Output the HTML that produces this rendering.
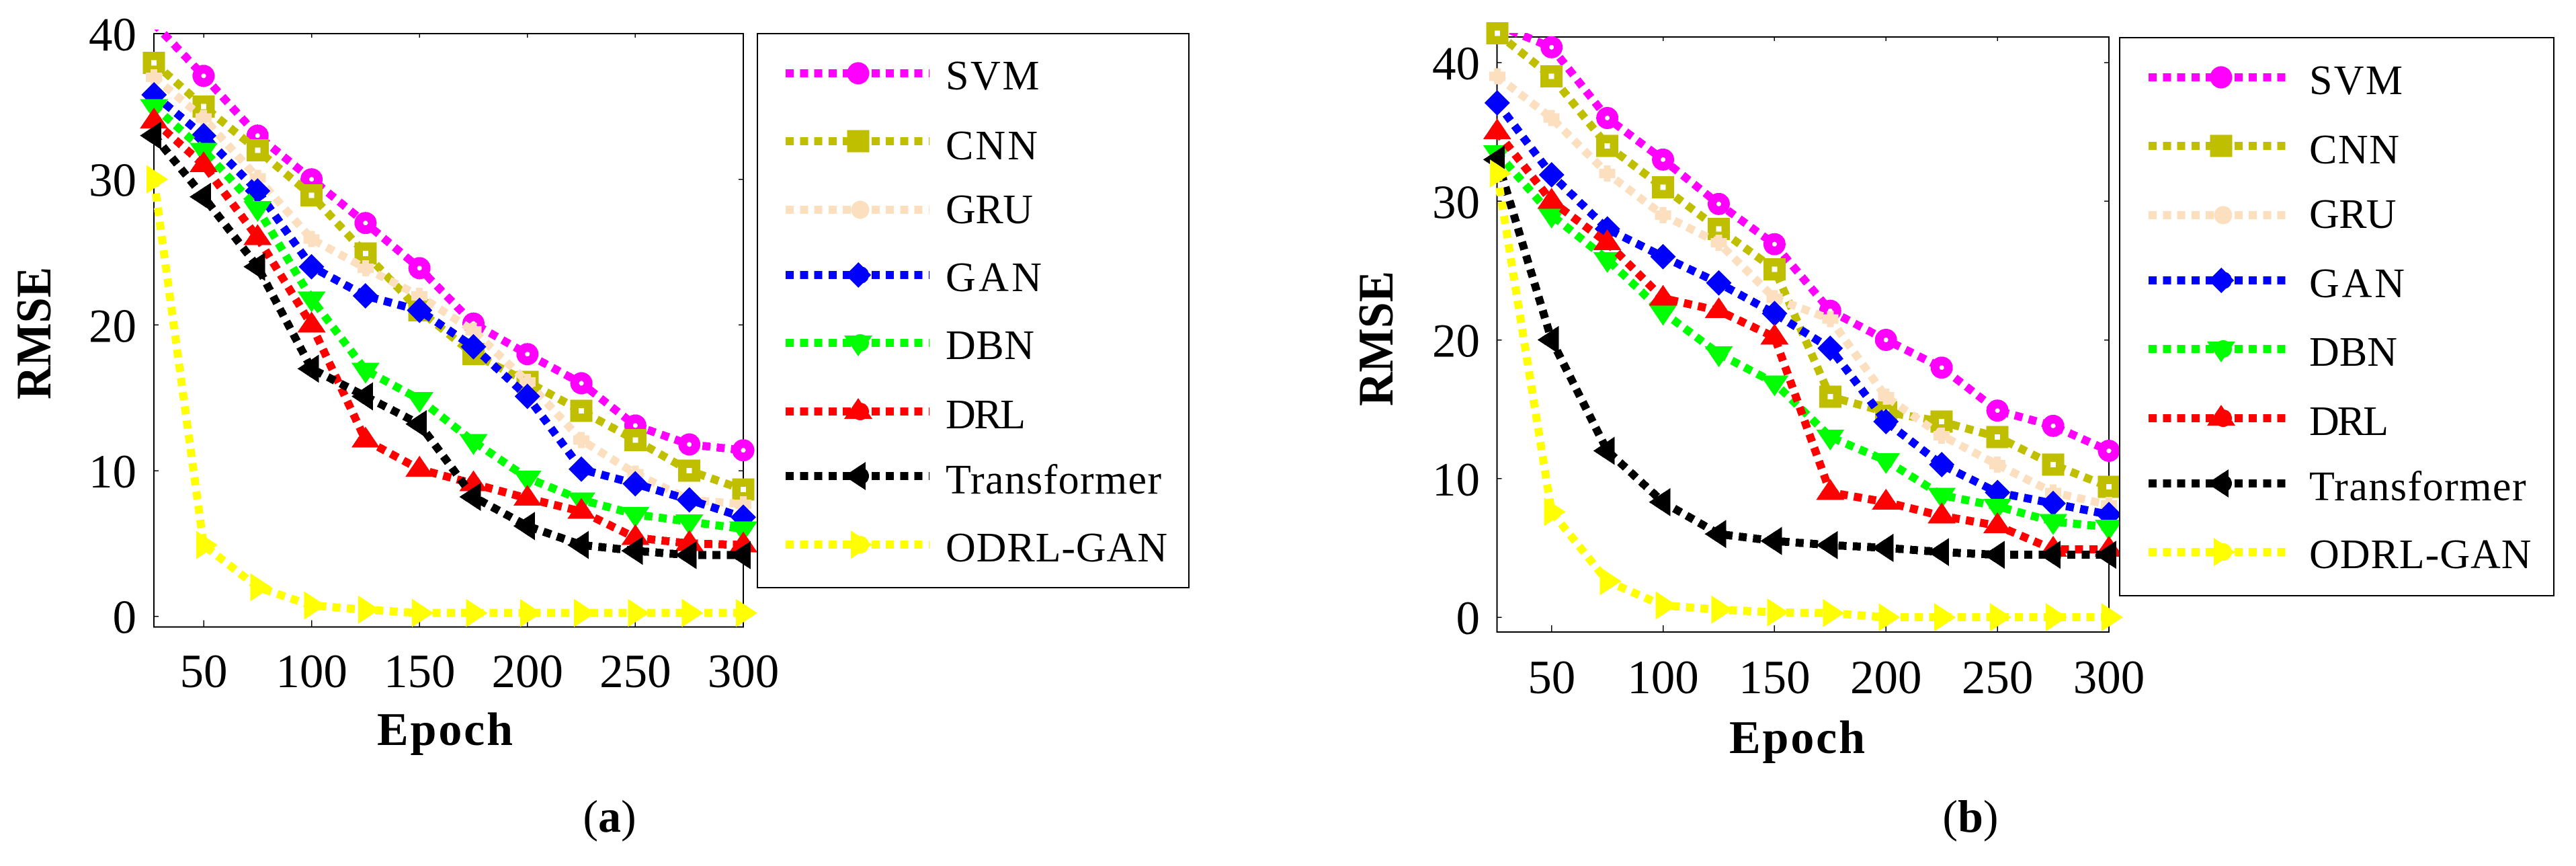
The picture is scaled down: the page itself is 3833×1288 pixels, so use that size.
<!DOCTYPE html>
<html lang="en">
<head>
<meta charset="utf-8">
<title>RMSE versus Epoch</title>
<style>
html,body{margin:0;padding:0;background:#fff;}
svg{display:block;}
text{font-family:"Liberation Serif",serif;fill:#000;}
</style>
</head>
<body>
<svg id="figure" xmlns="http://www.w3.org/2000/svg" width="3833" height="1288" viewBox="0 0 3833 1288"></svg>
<script>
// ---------- data: categories ----------
const epochsA = [27, 50, 75, 100, 125, 150, 175, 200, 225, 250, 275, 300];
const epochsB = [25.6, 50, 75, 100, 125, 150, 175, 200, 225, 250, 275, 300];

// ---------- data: tick labels ----------
const xTickValues = [50, 100, 150, 200, 250, 300];
const yTickValues = [0, 10, 20, 30, 40];

// ---------- data: series names ----------
const seriesNames = ['SVM', 'CNN', 'GRU', 'GAN', 'DBN', 'DRL', 'Transformer', 'ODRL-GAN'];

// ---------- data: panel (a) ----------
const aSVM = [40.7, 37.1, 33, 30, 27, 23.9, 20.1, 18, 16, 13.1, 11.8, 11.4];
const aCNN = [38, 35, 32, 28.9, 24.9, 21, 18, 16.1, 14.1, 12.1, 10, 8.7];
const aGRU = [37, 34.2, 30.1, 25.9, 23.9, 22, 19.6, 16.1, 12.1, 9.8, 8, 7.7];
const aGAN = [35.8, 33, 29.2, 24, 22, 21, 18.5, 15.1, 10.1, 9.1, 8, 6.8];
const aDBN = [35, 32, 28, 21.8, 16.9, 14.9, 12, 9.5, 8, 7, 6.5, 6];
const aDRL = [34, 31, 26, 20, 12.1, 10.1, 9.1, 8.1, 7.2, 5.4, 5, 4.9];
const aTransformer = [33, 28.8, 24, 17, 15.1, 13.2, 8.2, 6.2, 4.9, 4.5, 4.2, 4.2];
const aODRLGAN = [30, 4.9, 2, 0.75, 0.46, 0.23, 0.23, 0.23, 0.23, 0.23, 0.23, 0.23];

// ---------- data: panel (b) ----------
const bSVM = [42.7, 41.1, 36, 33, 29.8, 26.9, 22.1, 20, 18, 14.9, 13.8, 12];
const bCNN = [42.1, 39, 34, 31, 28, 25.1, 15.9, 14.8, 14.1, 13, 11, 9.4];
const bGRU = [39, 36, 32, 29, 27, 23, 21.5, 15.9, 13.1, 11, 9, 8.1];
const bGAN = [37.1, 31.9, 28, 26, 24.1, 21.9, 19.4, 14.1, 11, 9, 8.2, 7.4];
const bDBN = [33.5, 29, 25.8, 22, 19, 16.9, 13, 11.3, 8.8, 8, 6.9, 6.5];
const bDRL = [35, 30, 27, 23, 22.1, 20.2, 9, 8.3, 7.3, 6.6, 4.9, 4.9];
const bTransformer = [33, 20, 12, 8.3, 6, 5.5, 5.2, 5, 4.7, 4.5, 4.5, 4.5];
const bODRLGAN = [32, 7.6, 2.6, 0.85, 0.55, 0.35, 0.3, 0, 0, 0, 0, 0];

// ---------- styling ----------
const seriesColors = ['#ff00ff', '#bfbf00', '#fbdfbf', '#0000ff', '#00ff00', '#ff0000', '#000000', '#ffff00'];
const seriesMarkers = ['circle', 'square', 'plus', 'diamond', 'down', 'up', 'left', 'right'];

const panels = [
  {
    id: 'a', epochs: epochsA,
    values: [aSVM, aCNN, aGRU, aGAN, aDBN, aDRL, aTransformer, aODRLGAN],
    box: { l: 229, r: 1106, t: 50, b: 932.7 },
    xMap: { v0: 50, p0: 303, v1: 300, p1: 1106 },
    yMap: { v0: 0, p0: 916.7, v1: 40, p1: 50 },
    markerLimit: 40.2,
    yLabelRight: 203, xLabelBaseline: 1022,
    yTitle: { x: 75, c: 495.5, len: 197 },
    xTitle: { c: 662, baseline: 1108, len: 202 },
    caption: { x: 907, baseline: 1237 },
    legend: {
      l: 1127, r: 1769, t: 50, b: 874,
      lineL: 1169, lineR: 1383, markerX: 1277, textX: 1407,
      rows: [109, 210, 312, 409, 510, 612, 708, 810],
      baselines: [133, 237, 332, 433, 534, 637, 734, 835],
      widths: [139.5, 137, 130, 143, 132, 119, 321, 330]
    }
  },
  {
    id: 'b', epochs: epochsB,
    values: [bSVM, bCNN, bGRU, bGAN, bDBN, bDRL, bTransformer, bODRLGAN],
    box: { l: 2227.7, r: 3138, t: 55, b: 940 },
    xMap: { v0: 50, p0: 2308.7, v1: 300, p1: 3138 },
    yMap: { v0: 0, p0: 918, v1: 40, p1: 93 },
    markerLimit: 42.3,
    yLabelRight: 2202, xLabelBaseline: 1031,
    yTitle: { x: 2072, c: 503.5, len: 201 },
    xTitle: { c: 2674, baseline: 1120, len: 202 },
    caption: { x: 2932, baseline: 1237 },
    legend: {
      l: 3154, r: 3800, t: 56, b: 886,
      lineL: 3197, lineR: 3403, markerX: 3305, textX: 3436,
      rows: [115, 217, 320, 417, 519, 622, 719, 821],
      baselines: [140, 243, 339, 442, 544, 647, 744, 845],
      widths: [139, 134, 129.5, 142, 131, 118, 322.6, 330.5]
    }
  }
];

const SVG_NS = 'http://www.w3.org/2000/svg';
const figure = document.getElementById('figure');

function make(tag, attrs, parent) {
  const el = document.createElementNS(SVG_NS, tag);
  for (const k in attrs) el.setAttribute(k, attrs[k]);
  parent.appendChild(el);
  return el;
}

function linearScale(m) {
  return function (v) { return m.p0 + (v - m.v0) * (m.p1 - m.p0) / (m.v1 - m.v0); };
}

function drawMarker(parent, kind, cx, cy, color, solid) {
  const crisp = { 'shape-rendering': 'crispEdges' };
  function poly(points, fill) {
    const s = points.map(function (p) { return (cx + p[0]) + ',' + (cy + p[1]); }).join(' ');
    make('polygon', Object.assign({ points: s, fill: fill }, crisp), parent);
  }
  function disc(dx, r, fill) {
    make('circle', Object.assign({ cx: cx + dx, cy: cy, r: r, fill: fill }, crisp), parent);
  }
  if (kind === 'circle') {
    disc(0, 16.5, color);
    if (!solid) disc(0, 3.5, '#ffffff');
  } else if (kind === 'square') {
    poly([[-16.5, -16.5], [16.5, -16.5], [16.5, 16.5], [-16.5, 16.5]], color);
    if (!solid) poly([[-4, -4], [4, -4], [4, 4], [-4, 4]], '#ffffff');
  } else if (kind === 'plus') {
    if (solid) {
      disc(3, 13.5, color);
    } else {
      poly([[-5, -12], [5, -12], [5, -7], [12, -7], [12, 7], [5, 7], [5, 12], [-5, 12], [-5, 7], [-12, 7], [-12, -7], [-5, -7]], color);
    }
  } else if (kind === 'diamond') {
    poly([[0, -19], [19, 0], [0, 19], [-19, 0]], color);
    if (solid) disc(3, 13, color);
  } else if (kind === 'down') {
    poly([[-21, -11], [21, -11], [0, 20]], color);
    if (solid) disc(3, 13, color);
  } else if (kind === 'up') {
    poly([[-21, 11], [21, 11], [0, -20]], color);
    if (solid) disc(3, 13, color);
  } else if (kind === 'left') {
    poly([[11, -21], [11, 21], [-21, 0]], color);
    if (solid) disc(3, 13, color);
  } else if (kind === 'right') {
    poly([[-11, -21], [-11, 21], [21, 0]], color);
    if (solid) disc(3, 13, color);
  }
}

panels.forEach(function (panel) {
  const xScale = linearScale(panel.xMap);
  const yScale = linearScale(panel.yMap);
  const box = panel.box;

  const group = make('g', {}, figure);
  
  

  // clip for the dotted lines (they stop just above the top of the axes)
  const defs = make('defs', {}, group);
  const clip = make('clipPath', { id: 'clip-' + panel.id }, defs);
  make('rect', { x: box.l - 40, y: box.t - 6, width: box.r - box.l + 80, height: box.b - box.t + 6 }, clip);

  // axes frame
  const frame = make('rect', { x: box.l, y: box.t, width: box.r - box.l, height: box.b - box.t, fill: 'none', stroke: '#000', 'stroke-width': 2, 'shape-rendering': 'crispEdges' }, group);
  
  

  // x ticks and labels
  xTickValues.forEach(function (v) {
    const x = xScale(v);
    make('line', { x1: x, x2: x, y1: box.b, y2: box.b - 10, stroke: '#000', 'stroke-width': 1.5, 'shape-rendering': 'crispEdges' }, group);
    make('line', { x1: x, x2: x, y1: box.t, y2: box.t + 6, stroke: '#000', 'stroke-width': 1.5, 'shape-rendering': 'crispEdges' }, group);
    const label = make('text', { x: x, y: panel.xLabelBaseline, 'text-anchor': 'middle', 'font-size': 71 }, group);
    label.textContent = String(v);
    
    
  });

  // y ticks and labels
  yTickValues.forEach(function (v) {
    const y = yScale(v);
    make('line', { x1: box.l, x2: box.l + 7, y1: y, y2: y, stroke: '#000', 'stroke-width': 1.5, 'shape-rendering': 'crispEdges' }, group);
    make('line', { x1: box.r, x2: box.r - 7, y1: y, y2: y, stroke: '#000', 'stroke-width': 1.5, 'shape-rendering': 'crispEdges' }, group);
    const label = make('text', { x: panel.yLabelRight, y: y + 25, 'text-anchor': 'end', 'font-size': 71 }, group);
    label.textContent = String(v);
    
    
  });

  // axis titles
  const yTitle = make('text', {
    transform: 'translate(' + panel.yTitle.x + ',' + panel.yTitle.c + ') rotate(-90)',
    'text-anchor': 'middle', 'font-size': 74, 'font-weight': 'bold',
    textLength: panel.yTitle.len, lengthAdjust: 'spacingAndGlyphs'
  }, group);
  yTitle.textContent = 'RMSE';
  
  

  const xTitle = make('text', {
    x: panel.xTitle.c, y: panel.xTitle.baseline,
    'text-anchor': 'middle', 'font-size': 70, 'font-weight': 'bold',
    textLength: panel.xTitle.len, lengthAdjust: 'spacing'
  }, group);
  xTitle.textContent = 'Epoch';
  
  

  // series
  seriesNames.forEach(function (name, i) {
    const color = seriesColors[i];
    const values = panel.values[i];
    const seriesGroup = make('g', {}, group);
    
    

    const pts = values.map(function (v, k) { return xScale(panel.epochs[k]) + ',' + yScale(v); }).join(' ');
    const line = make('polyline', {
      points: pts, fill: 'none', stroke: color, 'stroke-width': 12,
      'stroke-dasharray': '12 9.3', 'shape-rendering': 'crispEdges',
      'clip-path': 'url(#clip-' + panel.id + ')'
    }, seriesGroup);
    
    

    values.forEach(function (v, k) {
      if (v > panel.markerLimit) return;
      const mark = make('g', {}, seriesGroup);
      
      
      drawMarker(mark, seriesMarkers[i], xScale(panel.epochs[k]), yScale(v), color, false);
    });
  });

  // legend
  const lg = panel.legend;
  const legend = make('g', {}, group);
  
  
  make('rect', { x: lg.l, y: lg.t, width: lg.r - lg.l, height: lg.b - lg.t, fill: '#fff', stroke: '#000', 'stroke-width': 2, 'shape-rendering': 'crispEdges' }, legend);

  seriesNames.forEach(function (name, i) {
    const entry = make('g', {}, legend);
    
    
    make('line', {
      x1: lg.lineL, x2: lg.lineR, y1: lg.rows[i], y2: lg.rows[i],
      stroke: seriesColors[i], 'stroke-width': 12, 'stroke-dasharray': '12 9.3', 'shape-rendering': 'crispEdges'
    }, entry);
    drawMarker(entry, seriesMarkers[i], lg.markerX, lg.rows[i], seriesColors[i], true);
    const label = make('text', {
      x: lg.textX, y: lg.baselines[i], 'font-size': 62,
      textLength: lg.widths[i], lengthAdjust: 'spacing'
    }, entry);
    label.textContent = name;
  });

  // caption
  const caption = make('text', { x: panel.caption.x, y: panel.caption.baseline, 'text-anchor': 'middle', 'font-size': 68 }, group);
  
  
  make('tspan', {}, caption).textContent = '(';
  make('tspan', { 'font-weight': 'bold' }, caption).textContent = panel.id;
  make('tspan', {}, caption).textContent = ')';
});
</script>
</body>
</html>
